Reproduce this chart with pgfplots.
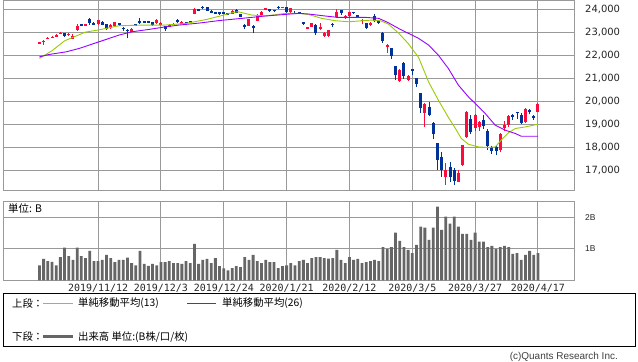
\documentclass[border=0pt]{standalone}
\usepackage{fontspec}
\usepackage{pgfplots}
\usepackage{pgfplotstable}
\pgfplotsset{compat=1.18}
\setmainfont{DejaVu Sans}
\newfontfamily\cjk{Noto Sans CJK JP}
\newfontfamily\mono{DejaVu Sans Mono}
\newfontfamily\lib{Liberation Sans}
\definecolor{upred}{HTML}{FF0A3C}
\definecolor{dnblue}{HTML}{003399}
\definecolor{maA}{HTML}{99CC00}
\definecolor{maB}{HTML}{9900FF}
\definecolor{gridgray}{HTML}{999999}
\definecolor{volgray}{HTML}{666666}

\pgfplotstableread{
i o h l c
0 22520 22590 22490 22548
1 22560 22650 22460 22625
2 22710 22780 22680 22750
3 22760 22830 22740 22800
4 22830 22900 22810 22867
5 22920 22990 22910 22974
7 22890 22970 22840 22927
8 22720 22900 22700 22850
9 23100 23330 23050 23252
11 23290 23350 23270 23330
14 23330 23530 23300 23520
17 23170 23330 23150 23303
18 23250 23440 23240 23417
22 23020 23160 23000 23113
28 23380 23560 23370 23529
29 23300 23420 23280 23380
31 23270 23330 23250 23300
32 23310 23380 23290 23354
34 23390 23470 23370 23410
37 23780 24050 23770 24023
46 23800 23940 23780 23925
50 23280 23580 23260 23576
52 23490 23770 23470 23740
53 23760 23900 23740 23851
54 23960 24040 23940 24025
58 24060 24110 24040 24084
60 23860 24050 23840 24031
64 23130 23240 23115 23216
65 23240 23400 23220 23379
67 23120 23400 23100 23205
68 22830 23000 22775 22972
69 22840 23100 22800 23085
71 23650 23995 23630 23874
73 23600 23720 23580 23686
74 23680 23880 23660 23861
77 23490 23560 23330 23523
79 23300 23430 23280 23401
83 22390 22500 22100 22426
86 20860 21390 20850 21344
88 20900 21120 20880 21100
92 19470 19910 18891 19867
97 16720 17300 16378 17012
100 16500 17000 16480 16888
101 17230 18100 17200 18092
102 18450 19580 18420 19547
104 18820 19440 18700 19389
105 18860 19140 18720 19085
110 17860 18600 17800 18576
111 18820 19160 18700 18950
112 18960 19420 18900 19353
116 19100 19700 19050 19639
119 19540 19920 19530 19897
}\uptable

\pgfplotstableread{
i o h l c
6 22960 22980 22800 22843
10 23330 23340 23250 23304
12 23550 23590 23320 23392
13 23400 23440 23300 23332
15 23450 23460 23290 23320
16 23330 23350 23090 23142
19 23380 23400 23270 23293
20 23170 23230 23060 23149
21 23110 23150 22726 23039
23 23320 23330 23270 23293
24 23470 23608 23340 23373
25 23470 23480 23400 23438
26 23460 23480 23390 23409
27 23430 23450 23280 23294
30 23260 23270 23040 23135
33 23530 23560 23390 23431
35 23440 23450 23380 23392
36 23460 23470 23400 23425
38 23990 24000 23920 23952
39 24100 24120 24020 24066
40 24070 24090 23920 23934
41 23900 23950 23820 23865
42 23870 23880 23780 23817
43 23870 23880 23750 23821
44 23860 23870 23800 23831
45 23810 23820 23760 23783
47 23960 23990 23820 23838
48 23770 23780 23640 23657
49 23320 23370 23150 23205
51 23230 23300 22951 23205
55 23990 24000 23890 23917
56 23960 23980 23880 23933
57 24110 24120 24020 24041
59 24080 24100 23820 23865
61 23840 23900 23770 23795
62 23850 23860 23800 23827
63 23430 23450 23320 23344
66 23300 23340 22890 22978
70 23340 23400 23230 23320
72 23950 23960 23760 23828
75 23880 23890 23800 23828
76 23740 23750 23650 23688
78 23380 23410 23150 23194
80 23700 23800 23430 23479
81 23500 23530 23350 23387
82 22950 22990 22530 22605
84 22290 22300 21830 21948
85 21530 21540 20916 21143
87 21650 21720 20970 21083
89 21380 21400 21150 21329
90 21010 21020 20613 20750
91 20340 20350 19470 19699
93 19760 19970 19340 19416
94 19060 19100 18340 18560
95 18180 18190 17030 17431
96 17580 17800 16710 17002
98 17150 17350 16480 16727
99 17000 17100 16358 16553
103 19240 19390 18560 18665
106 19200 19390 18800 18917
107 18700 18800 17870 18065
108 18010 18050 17710 17819
109 18000 18100 17650 17820
113 19380 19460 19200 19346
114 19520 19530 19240 19499
115 19410 19470 19000 19043
117 19610 19650 19430 19550
118 19330 19380 19200 19290
}\dntable

\pgfplotstableread{
i v
0 0.48
1 0.68
2 0.61
3 0.59
4 0.48
5 0.74
6 1.04
7 0.77
8 0.65
9 1.04
10 0.77
11 0.71
12 0.94
13 0.61
14 0.61
15 0.65
16 0.81
17 0.71
18 0.58
19 0.65
20 0.65
21 0.72
22 0.55
23 0.48
24 0.94
25 0.52
26 0.46
27 0.52
28 0.48
29 0.58
30 0.58
31 0.61
32 0.55
33 0.55
34 0.52
35 0.61
36 0.55
37 1.16
38 0.52
39 0.65
40 0.68
41 0.55
42 0.71
43 0.45
44 0.38
45 0.32
46 0.39
47 0.45
48 0.42
49 0.74
50 0.65
51 0.81
52 0.61
53 0.55
54 0.65
55 0.58
56 0.58
57 0.39
58 0.45
59 0.48
60 0.55
61 0.48
62 0.61
63 0.65
64 0.55
65 0.71
66 0.74
67 0.74
68 0.71
69 0.69
70 0.71
71 0.97
72 0.65
73 0.55
74 0.74
75 0.65
76 0.68
77 0.55
78 0.58
79 0.61
80 0.65
81 0.61
82 1.06
83 1.00
84 1.06
85 1.52
86 1.26
87 1.06
88 0.97
89 0.87
90 1.13
91 1.71
92 1.68
93 1.29
94 1.68
95 2.35
96 1.61
97 2.03
98 1.81
99 2.03
100 1.71
101 1.48
102 1.48
103 1.29
104 1.52
105 1.23
106 1.23
107 1.06
108 1.10
109 1.00
110 1.06
111 1.10
112 1.06
113 0.84
114 0.87
115 0.65
116 0.81
117 0.94
118 0.81
119 0.87
}\voltable

\pgfplotsset{
  panel/.style={
    scale only axis, width=571bp, anchor=south west,
    xmin=-8.7, xmax=127.6,
    xtick={14,29,44,59,74,89,104,119},
    xmajorgrids, ymajorgrids,
    grid style={gridgray, line width=1bp},
    axis line style={gridgray, line width=1bp},
    major tick length=0pt, tick style={draw=none},
    yticklabel pos=right,
    scaled y ticks=false,
    yticklabel style={anchor=west, inner sep=0pt, xshift=11bp, text=black!85},
  },
  wick/.style={draw=none, mark=none, error bars/.cd, y dir=plus, y explicit, error mark=none,
    error bar style={line width=1bp, #1}},
  body/.style={draw=none, mark=none, error bars/.cd, y dir=both, y explicit, error mark=none,
    error bar style={line width=3bp, #1}},
}

\begin{document}
\begin{tikzpicture}
\path[use as bounding box, fill=white] (0,0) rectangle (638bp,362bp);

\begin{axis}[panel, at={(3bp,171.7bp)}, height=190bp,
  ymin=16130, ymax=24380,
  ytick={17000,18000,19000,20000,21000,22000,23000,24000},
  yticklabels={{17,000},{18,000},{19,000},{20,000},{21,000},{22,000},{23,000},{24,000}},
  yticklabel style={font=\fontsize{10}{12}\selectfont},
  xticklabels={}]
\addplot[wick=upred] table[x=i, y=l, y error plus expr={\thisrow{h}-\thisrow{l}}] {\uptable};
\addplot[body=upred] table[x=i, y expr={(\thisrow{o}+\thisrow{c})/2}, y error expr={max(abs(\thisrow{c}-\thisrow{o})/2,25)}] {\uptable};
\addplot[wick=dnblue] table[x=i, y=l, y error plus expr={\thisrow{h}-\thisrow{l}}] {\dntable};
\addplot[body=dnblue] table[x=i, y expr={(\thisrow{o}+\thisrow{c})/2}, y error expr={max(abs(\thisrow{c}-\thisrow{o})/2,25)}] {\dntable};
\addplot[maA, line width=0.9bp] coordinates {
(0,21857) (3,22190) (6,22620) (11,23000) (14,23090) (19,23275) (25,23304) (30,23304)
(35,23378) (40,23552) (43.6,23720) (46,23840) (47.4,23883) (50.7,23739) (54,23700)
(58.8,23813) (62,23813) (64.3,23760) (67.4,23595) (70.7,23491) (73.8,23448) (77,23491)
(79.3,23520) (81.4,23491) (83.3,23348) (85.7,22960) (88,22509) (90.5,21900) (92.9,20830)
(95.2,20050) (97.6,19300) (99.3,18813) (100.7,18378) (102.4,18130) (104.8,18013)
(107.1,17987) (108.8,18013) (110.2,18304) (111.9,18622) (113.6,18813) (116,18883) (119,19000)};
\addplot[maB, line width=0.9bp] coordinates {
(0,21927) (2.4,22030) (6.4,22143) (9.5,22291) (14.3,22583) (19,22870) (22.1,23013)
(26.2,23117) (30.2,23230) (33.3,23304) (38.1,23390) (42.9,23500) (48.3,23595) (54,23700)
(62,23813) (64.3,23783) (68.3,23696) (71.4,23635) (77.9,23638) (81,23595) (83.3,23405)
(85.7,23160) (88.1,22943) (90.5,22726) (92.9,22435) (95.2,22000) (97.6,21422) (100,20696)
(102.4,20187) (104,19900) (106.4,19465) (108.8,18957) (111.2,18739) (113.6,18596)
(115,18478) (119,18478)};
\end{axis}

\begin{axis}[panel, at={(3bp,81.7bp)}, height=79bp,
  ymin=0, ymax=2.52,
  ytick={1,2}, yticklabels={1B,2B},
  yticklabel style={font=\lib\fontsize{8.5}{10}\selectfont},
  xticklabels={2019/11/12,2019/12/3,2019/12/24,2020/1/21,2020/2/12,2020/3/5,2020/3/27,2020/4/17},
  xticklabel style={font=\mono\fontsize{10}{11}\selectfont, anchor=center, inner sep=0pt, yshift=-8.2bp, text=black!85}]
\addplot[ybar, bar width=2.8bp, bar shift=0pt, fill=volgray, draw=none] table[x=i, y=v] {\voltable};
\end{axis}

\node[anchor=west, inner sep=0pt] at (8bp,153.5bp) {\cjk\fontsize{10.5}{12}\selectfont 単位: B};

\draw[black, line width=1bp] (3bp,15.3bp) rectangle (635bp,68bp);
\node[anchor=west, inner sep=0pt] at (12bp,58.5bp) {\cjk\fontsize{10.4}{12}\selectfont 上段：};
\draw[maA, line width=1.2bp] (43bp,58.5bp) -- (73bp,58.5bp);
\node[anchor=west, inner sep=0pt] at (78bp,58.5bp) {\cjk\fontsize{10.4}{12}\selectfont 単純移動平均(13)};
\draw[maB, line width=1.2bp] (187bp,58.5bp) -- (216bp,58.5bp);
\node[anchor=west, inner sep=0pt] at (222bp,58.5bp) {\cjk\fontsize{10.4}{12}\selectfont 単純移動平均(26)};
\node[anchor=west, inner sep=0pt] at (12bp,25bp) {\cjk\fontsize{10.4}{12}\selectfont 下段：};
\draw[volgray, line width=3bp] (43bp,25bp) -- (73bp,25bp);
\node[anchor=west, inner sep=0pt] at (78bp,25bp) {\cjk\fontsize{10.4}{12}\selectfont 出来高 単位:(B株/口/枚)};

\node[anchor=east, inner sep=0pt, text=black!75] at (618bp,5bp) {\lib\fontsize{10}{11}\selectfont (c)Quants Research Inc.};
\end{tikzpicture}
\end{document}
